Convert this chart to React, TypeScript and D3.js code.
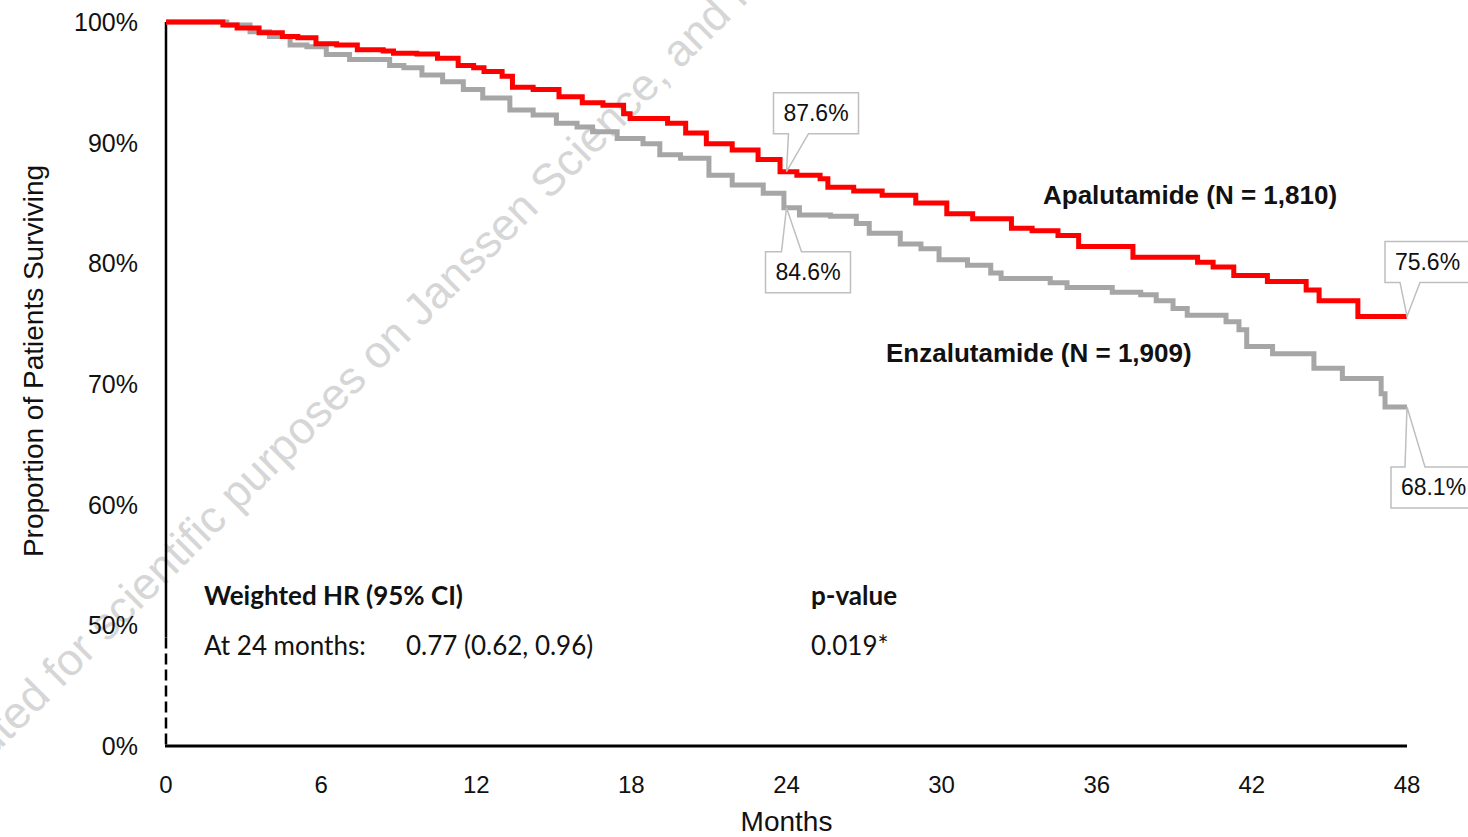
import React from 'react';
import * as d3 from 'd3';

// ---- data ----
const monthTicks = [0, 6, 12, 18, 24, 30, 36, 42, 48];
const yTickValues = [100, 90, 80, 70, 60, 50, 40];
const yTickLabels = ['100%', '90%', '80%', '70%', '60%', '50%', '0%'];

const apaMonths = [0, 2.2, 2.75, 3.6, 4.5, 5.1, 5.8, 6.6, 7.4, 8.4, 8.8, 9.7, 10.5, 11.3, 11.9, 12.3, 13.0, 13.4, 14.2, 15.2, 16.1, 16.9, 17.7, 17.95, 19.4, 20.1, 20.9, 21.9, 22.9, 23.75, 24.4, 25.3, 25.6, 26.6, 27.7, 29.0, 30.2, 31.2, 32.7, 33.5, 34.5, 35.3, 37.4, 39.9, 40.5, 41.3, 42.6, 44.1, 44.6, 46.1, 48];
const apaSurv = [100, 99.75, 99.5, 99.1, 98.8, 98.7, 98.2, 98.1, 97.7, 97.6, 97.4, 97.35, 97.0, 96.4, 96.2, 95.9, 95.5, 94.6, 94.4, 93.8, 93.3, 93.1, 92.4, 92.0, 91.6, 90.8, 89.9, 89.4, 88.6, 87.6, 87.3, 87.0, 86.3, 86.0, 85.65, 85.0, 84.1, 83.7, 82.9, 82.7, 82.3, 81.4, 80.5, 80.1, 79.7, 79.0, 78.5, 77.8, 76.9, 75.6, 75.6];

const enzMonths = [0, 2.35, 3.25, 4.0, 4.8, 5.45, 6.2, 7.1, 8.65, 9.2, 9.9, 10.7, 11.5, 12.25, 13.3, 14.2, 15.1, 15.9, 16.5, 17.45, 18.45, 19.1, 19.9, 21.0, 21.9, 23.1, 23.9, 24.5, 25.7, 26.7, 27.2, 28.4, 29.2, 29.9, 31.0, 31.9, 32.3, 34.2, 34.85, 36.6, 37.7, 38.3, 38.95, 39.5, 41.0, 41.5, 41.8, 42.8, 44.4, 45.5, 47.0, 47.15, 48];
const enzSurv = [100, 99.75, 99.2, 98.8, 98.1, 97.95, 97.3, 96.9, 96.4, 96.2, 95.6, 95.05, 94.4, 93.7, 92.7, 92.3, 91.6, 91.3, 90.9, 90.35, 89.9, 89.0, 88.7, 87.3, 86.5, 85.8, 84.6, 84.0, 83.9, 83.3, 82.5, 81.6, 81.2, 80.3, 79.85, 79.2, 78.75, 78.4, 78.0, 77.6, 77.4, 76.9, 76.25, 75.7, 75.15, 74.5, 73.1, 72.5, 71.3, 70.45, 69.2, 68.1, 68.1];

const seriesLabels = ['Apalutamide (N = 1,810)', 'Enzalutamide (N = 1,909)'];
const seriesColors = ['#ff0000', '#a6a6a6'];

const annotMonths = [24, 24, 48, 48];
const annotValues = [87.6, 84.6, 75.6, 68.1];
const annotAbove = [true, false, true, false];

const statsHeader = ['Weighted HR (95% CI)', 'p-value'];
const statsRow = ['At 24 months:', '0.77 (0.62, 0.96)', '0.019*'];

const watermark = 'Distributed for scientific purposes on Janssen Science, and is not to be';

// callout styling offsets (box position relative to the pointed value)
const annotBoxDx = [-13, -21, -22, -16];
const annotGap = [38, 44, 34, 60];
const annotPtrDx = [2, -5, -7, -2];

export default function App() {
  const W = 1468;
  const H = 837;
  const x = d3.scaleLinear().domain([0, 48]).range([166, 1407]);
  const y = d3.scaleLinear().domain([40, 100]).range([746, 22]);

  const line = d3
    .line<[number, number]>()
    .x((d) => x(d[0]))
    .y((d) => y(d[1]))
    .curve(d3.curveStepAfter);

  const apaData: [number, number][] = apaMonths.map((m, i) => [m, apaSurv[i]]);
  const enzData: [number, number][] = enzMonths.map((m, i) => [m, enzSurv[i]]);

  const sans = "'Liberation Sans', Arial, Helvetica, sans-serif";
  const stats = "Lato, 'Open Sans', sans-serif";

  const callout = (i: number, tx: number, ty: number) => {
    const bw = 85;
    const bh = 41;
    const x0 = tx + annotBoxDx[i];
    const x1 = x0 + bw;
    const p0 = tx + annotPtrDx[i];
    const p1 = p0 + 20;
    if (annotAbove[i]) {
      const y1 = ty - annotGap[i];
      const y0 = y1 - bh;
      return {
        path: `M${x0},${y0}H${x1}V${y1}H${p1}L${tx},${ty}L${p0},${y1}H${x0}Z`,
        cx: x0 + bw / 2,
        cy: y0 + bh / 2,
      };
    }
    const y0 = ty + annotGap[i];
    const y1 = y0 + bh;
    return {
      path: `M${x0},${y0}H${p0}L${tx},${ty}L${p1},${y0}H${x1}V${y1}H${x0}Z`,
      cx: x0 + bw / 2,
      cy: y0 + bh / 2,
    };
  };

  return (
    <svg
      width={W}
      height={H}
      style={{ position: 'absolute', left: 0, top: 0, background: '#fff' }}
    >
      <rect x={0} y={0} width={W} height={H} fill="#fff" />
      {/* watermark */}
      <text
        transform="translate(-100,850) rotate(-45)"
        fontFamily={sans}
        fontSize={45}
        fill="#d6d6d6"
      >
        {watermark}
      </text>

      {/* y tick labels */}
      {yTickValues.map((v, i) => (
        <text
          key={v}
          x={138}
          y={y(v) + 9}
          textAnchor="end"
          fontFamily={sans}
          fontSize={25}
          fill="#111"
        >
          {yTickLabels[i]}
        </text>
      ))}

      {/* x tick labels */}
      {monthTicks.map((m) => (
        <text
          key={m}
          x={x(m)}
          y={793}
          textAnchor="middle"
          fontFamily={sans}
          fontSize={24}
          fill="#111"
        >
          {m}
        </text>
      ))}

      {/* axis titles */}
      <text x={x(24)} y={831} textAnchor="middle" fontFamily={sans} fontSize={28} fill="#111">
        Months
      </text>
      <text
        transform={`translate(43,${(y(100) + y(40)) / 2 - 23}) rotate(-90)`}
        textAnchor="middle"
        fontFamily={sans}
        fontSize={28}
        fill="#111"
      >
        Proportion of Patients Surviving
      </text>

      {/* axes */}
      <line x1={x(0)} x2={x(0)} y1={y(100)} y2={y(49)} stroke="#000" strokeWidth={2.5} />
      <line
        x1={x(0)}
        x2={x(0)}
        y1={y(49)}
        y2={y(40)}
        stroke="#000"
        strokeWidth={2.5}
        strokeDasharray="11,5"
      />
      <line x1={x(0) - 1} x2={x(48)} y1={y(40)} y2={y(40)} stroke="#000" strokeWidth={3} />

      {/* curves */}
      <path d={line(enzData) || ''} fill="none" stroke={seriesColors[1]} strokeWidth={5} />
      <path d={line(apaData) || ''} fill="none" stroke={seriesColors[0]} strokeWidth={5} />

      {/* series labels */}
      <text x={1043} y={204} fontFamily={sans} fontWeight="bold" fontSize={26} fill="#111">
        {seriesLabels[0]}
      </text>
      <text x={886} y={362} fontFamily={sans} fontWeight="bold" fontSize={26} fill="#111">
        {seriesLabels[1]}
      </text>

      {/* callouts */}
      {annotValues.map((v, i) => {
        const c = callout(i, x(annotMonths[i]), y(v));
        return (
          <g key={i}>
            <path d={c.path} fill="#fff" stroke="#bfbfbf" strokeWidth={1.5} />
            <text
              x={c.cx}
              y={c.cy + 8}
              textAnchor="middle"
              fontFamily={sans}
              fontSize={23}
              fill="#111"
            >
              {v.toFixed(1)}%
            </text>
          </g>
        );
      })}

      {/* stats block */}
      <text x={204} y={605} fontFamily={stats} fontWeight="bold" fontSize={26} fill="#111">
        {statsHeader[0]}
      </text>
      <text x={811} y={605} fontFamily={stats} fontWeight="bold" fontSize={26} fill="#111">
        {statsHeader[1]}
      </text>
      <text x={204} y={655} fontFamily={stats} fontSize={26} fill="#111">
        {statsRow[0]}
      </text>
      <text x={406} y={655} fontFamily={stats} fontSize={26} fill="#111">
        {statsRow[1]}
      </text>
      <text x={811} y={655} fontFamily={stats} fontSize={26} fill="#111">
        {statsRow[2]}
      </text>
    </svg>
  );
}
